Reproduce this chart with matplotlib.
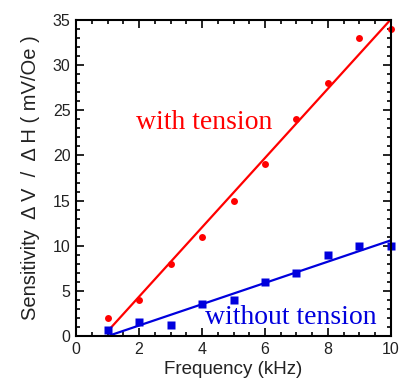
import numpy as np
import matplotlib
matplotlib.use("Agg")
import matplotlib.pyplot as plt
from matplotlib.ticker import MultipleLocator

# data
freq = [1, 2, 3, 4, 5, 6, 7, 8, 9, 10]
with_tension = [2, 4, 8, 11, 15, 19, 24, 28, 33, 34]
without_tension = [0.7, 1.5, 1.2, 3.5, 4, 6, 7, 9, 10, 10]

plt.rcParams["font.family"] = ["Liberation Sans", "DejaVu Sans"]

fig = plt.figure(figsize=(4.05, 3.81), dpi=100)
ax = fig.add_axes([0.1877, 0.1181, 0.7777, 0.8294])

x = np.array(freq)
xs = np.linspace(1, 10, 50)

# red: with tension
p_red = np.polyfit(x, with_tension, 1)
ax.plot(xs, np.polyval(p_red, xs), color="#ff0000", lw=1.6)
ax.plot(x, with_tension, "o", color="#ff0000", ms=5, mec="none", clip_on=False)

# blue: without tension
p_blue = np.polyfit(x, without_tension, 1)
ax.plot(xs, np.polyval(p_blue, xs), color="#0000dd", lw=1.6)
ax.plot(x, without_tension, "s", color="#0000dd", ms=5.5, mec="none", clip_on=False)

ax.set_xlim(0, 10)
ax.set_ylim(0, 35)
ax.xaxis.set_major_locator(MultipleLocator(2))
ax.xaxis.set_minor_locator(MultipleLocator(0.5))
ax.yaxis.set_major_locator(MultipleLocator(5))
ax.yaxis.set_minor_locator(MultipleLocator(1))
ax.tick_params(which="both", direction="in", top=True, right=True,
               labelsize=11.5, labelcolor="#222222", width=1.2)
ax.tick_params(which="major", length=6, pad=4)
ax.tick_params(which="minor", length=3)
for s in ax.spines.values():
    s.set_linewidth(1.5)

ax.text(1.9, 23.6, "with tension", color="#ff0000", fontsize=20,
        family="Liberation Serif", va="center", ha="left")
ax.text(4.1, 2.0, "without tension", color="#0000dd", fontsize=20,
        family="Liberation Serif", va="center", ha="left")

ax.set_xlabel("Frequency (kHz)", fontsize=13.5, color="#222222", labelpad=3)
ax.set_ylabel("Sensitivity  \u0394 V  /  \u0394 H ( mV/Oe )", fontsize=14.5,
              color="#222222", labelpad=9)

fig.savefig("out.png", dpi=100)
